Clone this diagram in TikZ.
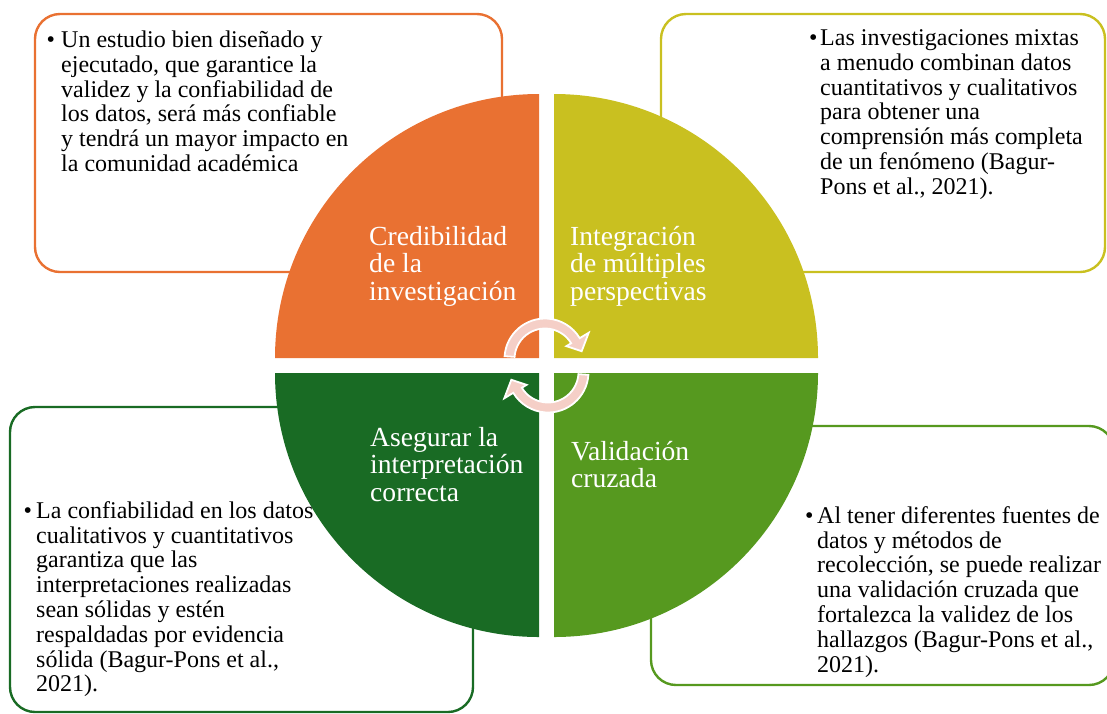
\documentclass[tikz,border=0pt]{standalone}
\usepackage{fontspec}
\setmainfont{Liberation Serif}
\definecolor{qorange}{HTML}{E97132}
\definecolor{qyellow}{HTML}{C9C020}
\definecolor{qdgreen}{HTML}{196B24}
\definecolor{qlgreen}{HTML}{56991F}
\definecolor{qpink}{HTML}{F5CFC7}
\tikzset{
  box/.style={line width=2.4pt, rounded corners=25pt},
  body/.style={anchor=base west, inner sep=0pt, text=black, font=\fontsize{24}{24.8}\selectfont},
  bul/.style={anchor=base west, inner sep=0pt, text=black, font=\fontsize{24}{24.8}\selectfont},
  lbl/.style={anchor=base west, inner sep=0pt, text=white, font=\fontsize{27.6}{27.5}\selectfont},
  cyc/.style={fill=qpink, draw=white, line width=1.8pt, line join=miter},
}
\begin{document}
\begin{tikzpicture}[x=1pt,y=-1pt]
\useasboundingbox (0,0) rectangle (1107,713);
\clip (0,0) rectangle (1107,713);
% outer boxes
\draw[box, draw=qorange] (35,14) rectangle (502,272);
\draw[box, draw=qyellow] (661,14) rectangle (1105,272);
\draw[box, draw=qdgreen] (10,407) rectangle (473,712);
\draw[box, draw=qlgreen] (651,426) rectangle (1114,685);
% quadrants
\fill[qorange] (539,358) -- (275,358) arc[start angle=180, end angle=270, radius=264] -- cycle;
\fill[qyellow] (554,358) -- (554,94) arc[start angle=270, end angle=360, radius=264] -- cycle;
\fill[qlgreen] (554,373) -- (818,373) arc[start angle=0, end angle=90, radius=264] -- cycle;
\fill[qdgreen] (539,373) -- (539,637) arc[start angle=90, end angle=180, radius=264] -- cycle;
% quadrant labels
\node[lbl] (l1) at (369,245) {\begin{tabular}[t]{@{}l@{}}Credibilidad\\de la\\investigación\end{tabular}};
\node[lbl] (l2) at (570,245) {\begin{tabular}[t]{@{}l@{}}Integración\\de múltiples\\perspectivas\end{tabular}};
\node[lbl] (l3) at (370,446) {\begin{tabular}[t]{@{}l@{}}Asegurar la\\interpretación\\correcta\end{tabular}};
\node[lbl] (l4) at (571,460) {\begin{tabular}[t]{@{}l@{}}Validación\\cruzada\end{tabular}};
% circular arrows
\begin{scope}[shift={(545,359)}, yscale=-1]
\path[cyc] (176:40.5) arc[start angle=176, end angle=31, radius=40.5] -- (31:51) -- (12:37.5) -- (31:25) -- (31:30.5) arc[start angle=31, end angle=176, radius=30.5] -- cycle;
\end{scope}
\begin{scope}[shift={(548,372)}, yscale=-1, rotate=180]
\path[cyc] (176:40.5) arc[start angle=176, end angle=31, radius=40.5] -- (31:51) -- (12:37.5) -- (31:25) -- (31:30.5) arc[start angle=31, end angle=176, radius=30.5] -- cycle;
\end{scope}
% body texts
\node[bul] (b1) at (46.5,47.5) {•};
\node[body] (t1) at (61,47.5) {\begin{tabular}[t]{@{}l@{}}Un estudio bien diseñado y\\ejecutado, que garantice la\\validez y la confiabilidad de\\los datos, será más confiable\\y tendrá un mayor impacto en\\la comunidad académica\end{tabular}};
\node[bul] (b2) at (809,45.5) {•};
\node[body] (t2) at (820,45.5) {\begin{tabular}[t]{@{}l@{}}Las investigaciones mixtas\\a menudo combinan datos\\cuantitativos y cualitativos\\para obtener una\\comprensión más completa\\de un fenómeno (Bagur-\\Pons et al., 2021).\end{tabular}};
\node[bul] (b3) at (23.5,518.3) {•};
\node[body] (t3) at (36,518.3) {\begin{tabular}[t]{@{}l@{}}La confiabilidad en los datos\\cualitativos y cuantitativos\\garantiza que las\\interpretaciones realizadas\\sean sólidas y estén\\respaldadas por evidencia\\sólida (Bagur-Pons et al.,\\2021).\end{tabular}};
\node[bul] (b4) at (805,523.3) {•};
\node[body] (t4) at (817,523.3) {\begin{tabular}[t]{@{}l@{}}Al tener diferentes fuentes de\\datos y métodos de\\recolección, se puede realizar\\una validación cruzada que\\fortalezca la validez de los\\hallazgos (Bagur-Pons et al.,\\2021).\end{tabular}};
\end{tikzpicture}
\end{document}
